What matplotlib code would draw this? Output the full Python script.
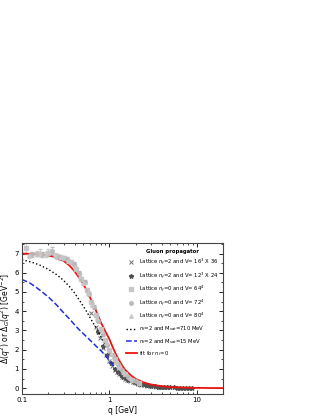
import matplotlib.pyplot as plt
import numpy as np

# fit curve for n_f = 0 (red)
q_fit = [0.1, 0.13, 0.16, 0.2, 0.25, 0.3, 0.35, 0.4, 0.45, 0.5, 0.55, 0.6, 0.7, 0.8,
         0.9, 1.0, 1.1, 1.2, 1.35, 1.5, 1.75, 2.0, 2.5, 3.0, 4.0, 5.0, 7.0, 10.0, 15.0, 20.0]
d_fit = [7.0, 6.98, 6.95, 6.9, 6.8, 6.62, 6.38, 6.08, 5.75, 5.45, 5.08, 4.72, 4.05, 3.42,
         2.95, 2.55, 2.1, 1.72, 1.3, 0.98, 0.68, 0.48, 0.29, 0.19, 0.1, 0.06, 0.03, 0.015, 0.007, 0.004]

# n_f = 2, M_sat = 710 MeV (black dotted)
q_710 = [0.1, 0.13, 0.16, 0.2, 0.25, 0.3, 0.35, 0.4, 0.45, 0.5, 0.55, 0.6, 0.7, 0.8, 0.9, 1.0, 1.1, 1.2]
d_710 = [6.68, 6.55, 6.4, 6.18, 5.9, 5.6, 5.28, 4.95, 4.6, 4.28, 3.98, 3.68, 3.15, 2.68, 2.25, 1.88, 1.55, 1.28]

# n_f = 2, M_sat = 15 MeV (blue dashed)
q_15 = [0.1, 0.12, 0.14, 0.16, 0.2, 0.25, 0.3, 0.35, 0.4, 0.45, 0.5, 0.6, 0.7, 0.8, 0.9, 1.0, 1.1, 1.2]
d_15 = [5.65, 5.5, 5.3, 5.1, 4.75, 4.32, 3.92, 3.6, 3.3, 3.05, 2.85, 2.5, 2.2, 1.95, 1.7, 1.45, 1.2, 1.0]

# lattice n_f = 2, V = 16^3 x 36
q_l1 = [0.62, 0.7, 0.78, 0.85, 0.92, 1.0, 1.08, 1.15, 1.22, 1.3, 1.4, 1.5, 1.6, 1.72, 1.85,
        2.0, 2.15, 2.3, 2.5, 2.7, 2.9, 3.1, 3.4, 3.7, 4.0, 4.4]
d_l1 = [3.9, 3.2, 2.6, 2.1, 1.7, 1.4, 1.15, 0.95, 0.85, 0.72, 0.6, 0.5, 0.43, 0.36, 0.3,
        0.25, 0.21, 0.18, 0.15, 0.12, 0.1, 0.09, 0.07, 0.06, 0.05, 0.04]

# lattice n_f = 2, V = 12^3 x 24
q_l2 = [0.75, 0.85, 0.95, 1.05, 1.15, 1.25, 1.35, 1.45, 1.55, 1.65, 1.75, 1.9, 2.05, 2.2,
        2.4, 2.6, 2.8, 3.0, 3.3, 3.6, 3.9, 4.2, 4.6, 5.0, 5.5, 6.0, 6.5, 7.0, 7.6, 8.2, 8.8]
d_l2 = [2.9, 2.2, 1.75, 1.3, 1.0, 0.85, 0.7, 0.6, 0.52, 0.45, 0.4, 0.33, 0.28, 0.24,
        0.2, 0.16, 0.14, 0.12, 0.1, 0.08, 0.07, 0.06, 0.05, 0.045, 0.04, 0.035, 0.03, 0.028, 0.025, 0.022, 0.02]

# lattice n_f = 0, V = 64^4
q_l3 = [0.11, 0.15, 0.2, 0.25, 0.3, 0.36, 0.42, 0.48, 0.55, 0.62, 0.7, 0.8, 0.9, 1.0, 1.15, 1.3, 1.5, 1.8, 2.2]
d_l3 = [7.3, 7.0, 7.05, 6.85, 6.75, 6.55, 6.2, 5.7, 5.1, 4.5, 3.8, 3.1, 2.5, 2.0, 1.5, 1.1, 0.75, 0.45, 0.28]
e_l3 = [0.3, 0.15, 0.2, 0.12, 0.1, 0.1, 0.1, 0.1, 0.1, 0.1, 0.1, 0.08, 0.08, 0.06, 0.05, 0.04, 0.03, 0.03, 0.02]

# lattice n_f = 0, V = 72^4
q_l4 = [0.13, 0.17, 0.22, 0.27, 0.33, 0.39, 0.45, 0.52, 0.58, 0.66, 0.75, 0.85, 0.95, 1.1, 1.25, 1.4, 1.65, 2.0]
d_l4 = [6.95, 6.95, 7.15, 6.8, 6.7, 6.45, 6.0, 5.5, 4.9, 4.2, 3.5, 2.8, 2.25, 1.7, 1.25, 0.95, 0.6, 0.38]
e_l4 = [0.15, 0.15, 0.2, 0.12, 0.1, 0.1, 0.1, 0.1, 0.1, 0.1, 0.08, 0.08, 0.06, 0.05, 0.04, 0.03, 0.03, 0.02]

# lattice n_f = 0, V = 80^4
q_l5 = [0.12, 0.16, 0.19, 0.24, 0.28, 0.34, 0.4, 0.46, 0.5, 0.57, 0.64, 0.72, 0.82, 0.92, 1.05, 1.2, 1.45, 1.7]
d_l5 = [6.9, 7.05, 6.95, 6.9, 6.8, 6.6, 6.3, 5.85, 5.45, 4.95, 4.35, 3.65, 2.95, 2.35, 1.8, 1.35, 0.85, 0.55]
e_l5 = [0.15, 0.2, 0.12, 0.12, 0.1, 0.1, 0.1, 0.1, 0.1, 0.1, 0.1, 0.08, 0.08, 0.06, 0.05, 0.04, 0.03, 0.02]

fig = plt.figure(figsize=(3.22, 4.16), dpi=100)
ax = fig.add_axes([0.068, 0.053, 0.625, 0.363])

ebkw = dict(linestyle='none', markersize=2.6, elinewidth=0.6, capsize=1.2, alpha=0.9)
h3 = ax.errorbar(q_l3, d_l3, yerr=e_l3, marker='s', color='#c4c4c4', **ebkw)
h4 = ax.errorbar(q_l4, d_l4, yerr=e_l4, marker='o', color='#b8b8b8', **ebkw)
h5 = ax.errorbar(q_l5, d_l5, yerr=e_l5, marker='^', color='#c8c8c8', **ebkw)
h1, = ax.plot(q_l1, d_l1, 'x', color='#707070', markersize=2.6, markeredgewidth=0.7)
h2, = ax.plot(q_l2, d_l2, '*', color='#505050', markersize=3.2)
h6, = ax.plot(q_710, d_710, ':', color='black', linewidth=1.0)
h7, = ax.plot(q_15, d_15, '--', color='#1f2fe0', linewidth=1.1)
h8, = ax.plot(q_fit, d_fit, '-', color='#ee1111', linewidth=1.3)

ax.set_xscale('log')
ax.set_xlim(0.1, 20)
ax.set_ylim(-0.3, 7.55)
ax.set_xticks([0.1, 1, 10])
ax.set_xticklabels(['0.1', '1', '10'])
ax.set_yticks(range(8))
ax.set_yticks(np.arange(-0.0, 7.6, 0.5), minor=True)
ax.tick_params(which='both', direction='in', top=True, right=True, labelsize=5, pad=2)
ax.tick_params(which='major', length=3, width=0.6)
ax.tick_params(which='minor', length=1.6, width=0.5)
for s in ax.spines.values():
    s.set_linewidth(0.8)
    s.set_color('#444444')

ax.set_xlabel('q [GeV]', fontsize=5.5, labelpad=2)
ax.set_ylabel(r'$\Delta(q^2)$ or $\Delta_G(q^2)$ [GeV$^{-2}$]', fontsize=5.5, labelpad=1)

handles = [h1, h2, h3[0], h4[0], h5[0], h6, h7, h8]
labels = ['Lattice $n_f$=2 and V= 16$^3$ X 36',
          'Lattice $n_f$=2 and V= 12$^3$ X 24',
          'Lattice $n_f$=0 and V= 64$^4$',
          'Lattice $n_f$=0 and V= 72$^4$',
          'Lattice $n_f$=0 and V= 80$^4$',
          '$n_f$=2 and M$_{sat}$=710 MeV',
          '$n_f$=2 and M$_{sat}$=15 MeV',
          'fit for $n_f$=0']
leg = ax.legend(handles, labels, loc='upper left', bbox_to_anchor=(0.5, 0.985), frameon=False,
                fontsize=3.8, title='Gluon propagator',
                title_fontproperties={'size': 3.8, 'weight': 'bold'},
                handlelength=2.0, handletextpad=0.5, labelspacing=0.62, borderpad=0.2)

fig.savefig('out.png', dpi=100)
